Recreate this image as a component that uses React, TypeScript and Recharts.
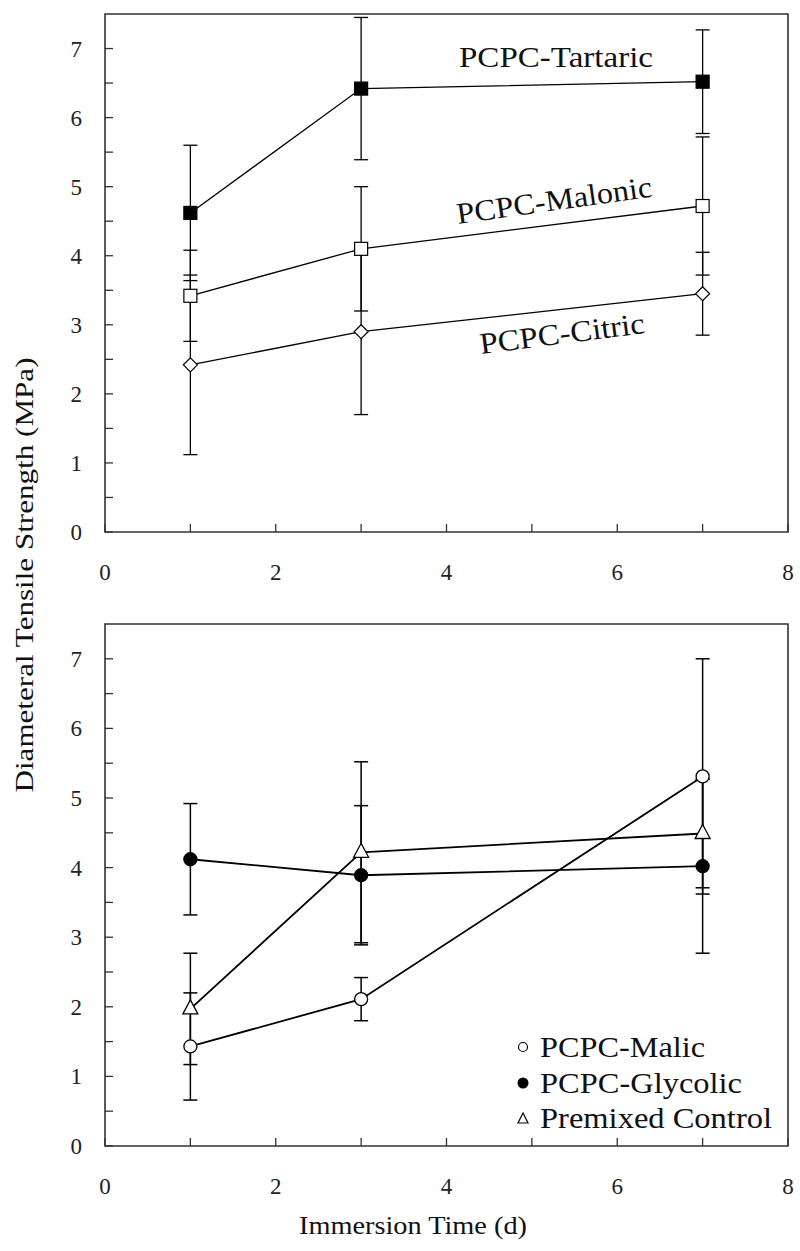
import { LineChart, Line, XAxis, YAxis, ErrorBar, ReferenceArea } from 'recharts';

const days = [1, 3, 7];

// upper panel
const tartaric = [4.62, 6.42, 6.52];
const tartaricSd = [0.98, 1.03, 0.75];
const malonic = [3.42, 4.1, 4.72];
const malonicSd = [0.66, 0.9, 1.0];
const citric = [2.42, 2.9, 3.45];
const citricSd = [1.3, 1.2, 0.6];

// lower panel
const malic = [1.43, 2.11, 5.31];
const malicSd = [0.77, 0.31, 1.69];
const glycolic = [4.12, 3.89, 4.02];
const glycolicSd = [0.8, 1.0, 1.25];
const premixed = [1.97, 4.22, 4.49];
const premixedSd = [0.8, 1.3, 0.78];

const xTicks = [0, 1, 2, 3, 4, 5, 6, 7, 8];
const yTicks = [0, 0.5, 1, 1.5, 2, 2.5, 3, 3.5, 4, 4.5, 5, 5.5, 6, 6.5, 7];

const legendNames = ['PCPC-Malic', 'PCPC-Glycolic', 'Premixed Control'];
const yTitle = 'Diameteral Tensile Strength  (MPa)';
const xTitle = 'Immersion Time  (d)';

const FONT = "'Liberation Serif', 'Times New Roman', serif";

const topRows = days.map((day, i) => ({
  day,
  tartaric: tartaric[i],
  tartaricSd: tartaricSd[i],
  malonic: malonic[i],
  malonicSd: malonicSd[i],
  citric: citric[i],
  citricSd: citricSd[i],
}));

const bottomRows = days.map((day, i) => ({
  day,
  malic: malic[i],
  malicSd: malicSd[i],
  glycolic: glycolic[i],
  glycolicSd: glycolicSd[i],
  premixed: premixed[i],
  premixedSd: premixedSd[i],
}));

const XTick = ({ x, y, payload }: any) => {
  if (payload.value % 2 !== 0) return <g />;
  return (
    <text x={x} y={y} dy={48} textAnchor='middle' fontSize={23} style={{ fontFamily: FONT }} fill='#222'>
      {payload.value}
    </text>
  );
};

const YTick = ({ x, y, payload }: any) => {
  if (!Number.isInteger(payload.value)) return <g />;
  return (
    <text x={x} y={y} dx={-23} dy={8} textAnchor='end' fontSize={23} style={{ fontFamily: FONT }} fill='#222'>
      {payload.value}
    </text>
  );
};

const squareDot = (filled: boolean) => (props: any) => {
  const { cx, cy, index } = props;
  return (
    <rect
      key={index}
      x={cx - 6.5}
      y={cy - 6.5}
      width={13}
      height={13}
      fill={filled ? '#000' : '#fff'}
      stroke='#000'
      strokeWidth={1.2}
    />
  );
};

const diamondDot = (props: any) => {
  const { cx, cy, index } = props;
  return (
    <polygon
      key={index}
      points={`${cx},${cy - 7} ${cx + 7},${cy} ${cx},${cy + 7} ${cx - 7},${cy}`}
      fill='#fff'
      stroke='#000'
      strokeWidth={1.2}
    />
  );
};

const circleDot = (filled: boolean) => (props: any) => {
  const { cx, cy, index } = props;
  return <circle key={index} cx={cx} cy={cy} r={6.5} fill={filled ? '#000' : '#fff'} stroke='#000' strokeWidth={1.3} />;
};

const triangleDot = (props: any) => {
  const { cx, cy, index } = props;
  return (
    <polygon
      key={index}
      points={`${cx},${cy - 9} ${cx + 7.5},${cy + 5} ${cx - 7.5},${cy + 5}`}
      fill='#fff'
      stroke='#000'
      strokeWidth={1.3}
    />
  );
};

function Panel({
  data,
  height,
  marginTop,
  axisHeight,
  children,
}: {
  data: any[];
  height: number;
  marginTop: number;
  axisHeight: number;
  children: any;
}) {
  return (
    <LineChart width={800} height={height} data={data} margin={{ top: marginTop, right: 12, left: 0, bottom: 0 }}>
      <XAxis
        dataKey='day'
        type='number'
        domain={[0, 8]}
        ticks={xTicks}
        tick={<XTick />}
        tickSize={-8}
        tickMargin={8}
        axisLine={false}
        tickLine={{ stroke: '#333', strokeWidth: 1.3 }}
        height={axisHeight}
        interval={0}
      />
      <YAxis
        type='number'
        domain={[0, 7.5]}
        ticks={yTicks}
        tick={<YTick />}
        tickSize={-8}
        tickMargin={8}
        axisLine={false}
        tickLine={{ stroke: '#333', strokeWidth: 1.3 }}
        width={105}
        interval={0}
        allowDataOverflow
      />
      <ReferenceArea x1={0} x2={8} y1={0} y2={7.5} fill='none' stroke='#333' strokeWidth={1.6} />
      {children}
    </LineChart>
  );
}

export default function App() {
  return (
    <div style={{ position: 'absolute', left: 0, top: 0, width: 800, height: 1251, background: '#fff' }}>
      <div style={{ position: 'absolute', left: 0, top: 0 }}>
        <Panel data={topRows} height={600} marginTop={14} axisHeight={68}>
          <Line type='linear' dataKey='citric' stroke='#000' strokeWidth={1.3} dot={diamondDot} activeDot={false} isAnimationActive={false}>
            <ErrorBar dataKey='citricSd' direction='y' width={7} stroke='#000' strokeWidth={1.3} />
          </Line>
          <Line type='linear' dataKey='malonic' stroke='#000' strokeWidth={1.3} dot={squareDot(false)} activeDot={false} isAnimationActive={false}>
            <ErrorBar dataKey='malonicSd' direction='y' width={7} stroke='#000' strokeWidth={1.3} />
          </Line>
          <Line type='linear' dataKey='tartaric' stroke='#000' strokeWidth={1.3} dot={squareDot(true)} activeDot={false} isAnimationActive={false}>
            <ErrorBar dataKey='tartaricSd' direction='y' width={7} stroke='#000' strokeWidth={1.3} />
          </Line>
        </Panel>
      </div>
      <div style={{ position: 'absolute', left: 0, top: 600 }}>
        <Panel data={bottomRows} height={651} marginTop={24} axisHeight={105}>
          <Line type='linear' dataKey='glycolic' stroke='#000' strokeWidth={1.8} dot={circleDot(true)} activeDot={false} isAnimationActive={false}>
            <ErrorBar dataKey='glycolicSd' direction='y' width={7} stroke='#000' strokeWidth={1.5} />
          </Line>
          <Line type='linear' dataKey='premixed' stroke='#000' strokeWidth={1.8} dot={triangleDot} activeDot={false} isAnimationActive={false}>
            <ErrorBar dataKey='premixedSd' direction='y' width={7} stroke='#000' strokeWidth={1.5} />
          </Line>
          <Line type='linear' dataKey='malic' stroke='#000' strokeWidth={1.8} dot={circleDot(false)} activeDot={false} isAnimationActive={false}>
            <ErrorBar dataKey='malicSd' direction='y' width={7} stroke='#000' strokeWidth={1.5} />
          </Line>
        </Panel>
      </div>
      <svg
        width={800}
        height={1251}
        style={{ position: 'absolute', left: 0, top: 0, pointerEvents: 'none', fontFamily: FONT }}
        fill='#111'
      >
        {/* series labels, upper panel */}
        <text x={459} y={67} fontSize={30} textLength={194} lengthAdjust='spacingAndGlyphs'>
          PCPC-Tartaric
        </text>
        <text x={458} y={224} fontSize={30} textLength={197} lengthAdjust='spacingAndGlyphs' transform='rotate(-8 458 224)'>
          PCPC-Malonic
        </text>
        <text x={481} y={354} fontSize={30} textLength={166} lengthAdjust='spacingAndGlyphs' transform='rotate(-7.3 481 354)'>
          PCPC-Citric
        </text>

        {/* legend, lower panel */}
        <circle cx={523} cy={1047} r={4.5} fill='#fff' stroke='#000' strokeWidth={1.2} />
        <circle cx={523} cy={1083} r={5.5} fill='#000' />
        <polygon points='523,1113 528,1123 518,1123' fill='#fff' stroke='#000' strokeWidth={1.2} />
        <text x={540} y={1057} fontSize={29} textLength={165} lengthAdjust='spacingAndGlyphs'>
          {legendNames[0]}
        </text>
        <text x={540} y={1093} fontSize={29} textLength={202} lengthAdjust='spacingAndGlyphs'>
          {legendNames[1]}
        </text>
        <text x={540} y={1128} fontSize={29} textLength={232} lengthAdjust='spacingAndGlyphs'>
          {legendNames[2]}
        </text>

        {/* axis titles */}
        <text x={413} y={1234} fontSize={26} textAnchor='middle' textLength={228} lengthAdjust='spacingAndGlyphs'>
          {xTitle}
        </text>
        <text
          x={33}
          y={575}
          fontSize={26}
          textAnchor='middle'
          textLength={435}
          lengthAdjust='spacingAndGlyphs'
          transform='rotate(-90 33 575)'
        >
          {yTitle}
        </text>
      </svg>
    </div>
  );
}
